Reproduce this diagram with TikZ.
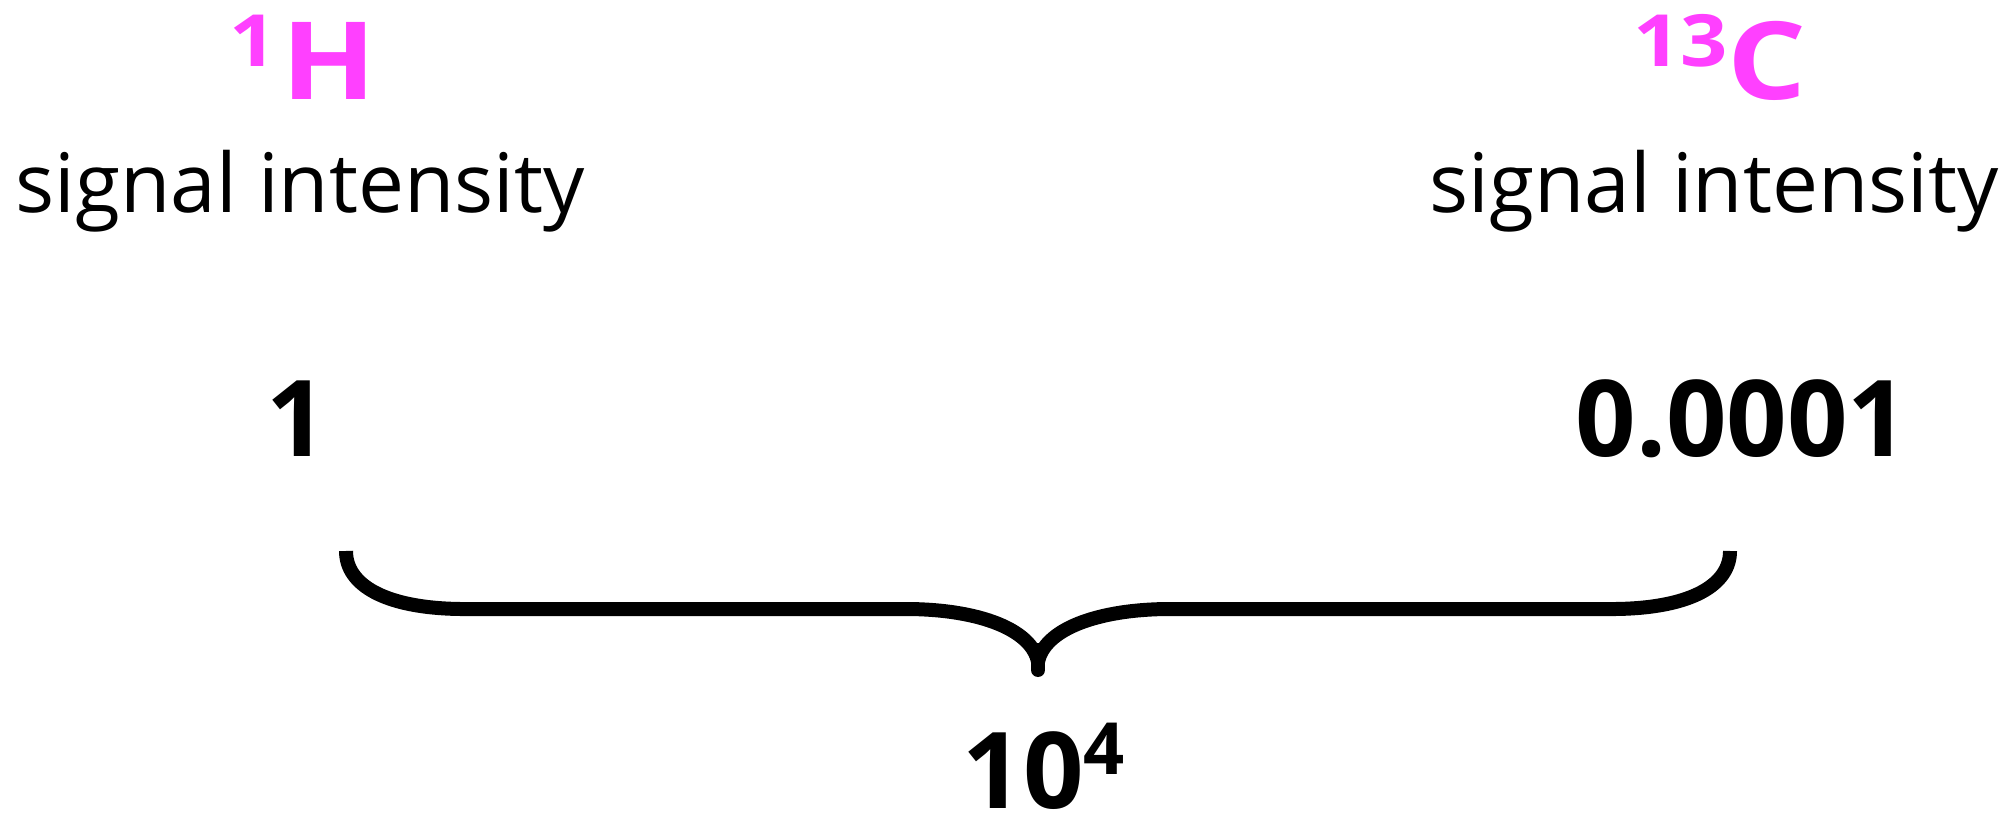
\documentclass[tikz,border=0pt]{standalone}
\usepackage{fontspec}
\setmainfont{Open Sans}
\newfontfamily\isofont[FakeStretch=1.15]{Open Sans}
\usepackage{xcolor}
\definecolor{ink}{HTML}{000000}
\definecolor{isoc}{HTML}{FF40FF}
\newcommand{\upnum}[1]{{\fontsize{18}{18}\selectfont\raisebox{8.4pt}{#1}}}

\begin{document}
\begin{tikzpicture}[x=0.25pt,y=-0.25pt,every node/.style={inner sep=0pt,anchor=base}]
\tikzstyle{iso}=[font=\isofont\bfseries\fontsize{27}{27}\selectfont,text=isoc]
\tikzstyle{lbl}=[font=\fontsize{20.5}{20.5}\selectfont,text=ink]
\tikzstyle{val}=[font=\bfseries\fontsize{26.5}{26.5}\selectfont,text=ink]
\tikzstyle{brace}=[line width=3.5pt,draw=ink]
\useasboundingbox (0,0) rectangle (2009,821);
% headings
\node[iso] (hyd) at (303,100) {\upnum{1}\kern1pt H};
\node[iso] (carb) at (1720,100) {\upnum{13}C};
\node[lbl] (sighyd) at (300,213) {signal intensity};
\node[lbl] (sigcarb) at (1714,213) {signal intensity};
% values
\node[val] (one) at (297,457) {1};
\node[val] (small) at (1742,457) {0.0001};
\node[val] (ratio) at (1044,808) {10\upnum{4}};
% brace
\coordinate (bl) at (346,551);
\coordinate (br) at (1730,551);
\coordinate (tip) at (1038,670);
\draw[brace] (bl) .. controls (346,585) and (385,608) .. (460,609) -- (905,609) .. controls (980,609) and (1032,630) .. (1038,662);
\draw[brace] (br) .. controls (1730,585) and (1691,608) .. (1616,609) -- (1171,609) .. controls (1096,609) and (1044,630) .. (1038,662);
\draw[brace,line cap=round] (1038,650) -- (tip);
\end{tikzpicture}
\end{document}
